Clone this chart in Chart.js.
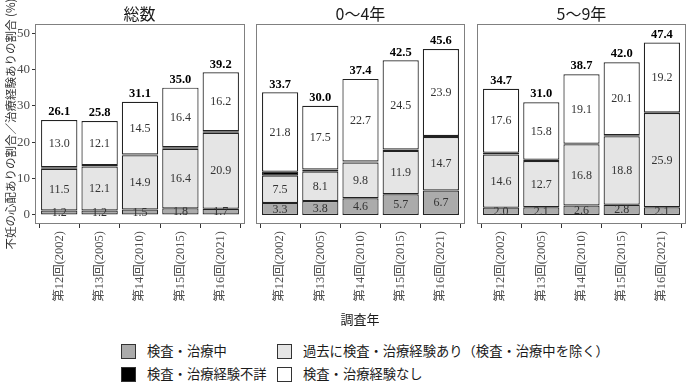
<!DOCTYPE html>
<html>
<head>
<meta charset="utf-8">
<script src="https://cdn.jsdelivr.net/npm/chart.js@4.4.1/dist/chart.umd.min.js"></script>
<style>
  body { margin: 0; background: #fff; }
  #wrap { position: relative; width: 690px; height: 386px; overflow: hidden;
          font-family: "Liberation Serif", "Noto Sans CJK JP", serif; color: #1a1a1a; }
  canvas { position: absolute; top: 0; }
  .strip { position: absolute; top: 5px; width: 209px; height: 17px; line-height: 17px;
           text-align: center; font-size: 16px; font-family: "Noto Sans CJK JP", sans-serif; }
  .ytitle { position: absolute; left: -120px; top: 116px; width: 260px; height: 16px; line-height: 16px;
            text-align: center; font-size: 11.5px; color: #333; transform: rotate(-90deg);
            font-family: "Noto Sans CJK JP", sans-serif; white-space: nowrap; }
  .xtitle { position: absolute; left: 310px; top: 309px; width: 100px; text-align: center;
            font-size: 13px; font-family: "Noto Sans CJK JP", sans-serif; }
  .leg { position: absolute; height: 16px; line-height: 16px; font-size: 13.3px; white-space: nowrap;
         font-family: "Noto Sans CJK JP", sans-serif; }
  .leg .box { position: absolute; left: 0; top: 0; width: 13px; height: 13px; border: 1.5px solid #333; }
  .leg .txt { position: absolute; left: 26px; top: -1px; }
</style>
</head>
<body>
<div id="wrap">
  <canvas id="c0" width="245" height="320" style="left:0px;width:245px;height:320px"></canvas>
  <canvas id="c1" width="209" height="320" style="left:256px;width:209px;height:320px"></canvas>
  <canvas id="c2" width="209" height="320" style="left:477px;width:209px;height:320px"></canvas>
  <div class="strip" style="left:35px">総数</div>
  <div class="strip" style="left:256px">0〜4年</div>
  <div class="strip" style="left:477px">5〜9年</div>
  <div class="ytitle">不妊の心配ありの割合／治療経験ありの割合 (%)</div>
  <div class="xtitle">調査年</div>
  <div class="leg" style="left:121px;top:344px"><span class="box" style="background:#ababab"></span><span class="txt">検査・治療中</span></div>
  <div class="leg" style="left:277px;top:344px"><span class="box" style="background:#e5e5e5"></span><span class="txt">過去に検査・治療経験あり（検査・治療中を除く）</span></div>
  <div class="leg" style="left:121px;top:367px"><span class="box" style="background:#000"></span><span class="txt">検査・治療経験不詳</span></div>
  <div class="leg" style="left:277px;top:367px"><span class="box" style="background:#fff"></span><span class="txt">検査・治療経験なし</span></div>
</div>
<script>
const surveys = ["第12回(2002)", "第13回(2005)", "第14回(2010)", "第15回(2015)", "第16回(2021)"];
const seriesNames = ["検査・治療中", "過去に検査・治療経験あり（検査・治療中を除く）", "検査・治療経験不詳", "検査・治療経験なし"];
const seriesColors = ["#ababab", "#e5e5e5", "#000000", "#ffffff"];
const yTicks = [0, 10, 20, 30, 40, 50];

// 総数
const allNow = [1.2, 1.2, 1.5, 1.8, 1.7];
const allPast = [11.5, 12.1, 14.9, 16.4, 20.9];
const allUnknown = [0.4, 0.4, 0.2, 0.4, 0.4];
const allNever = [13.0, 12.1, 14.5, 16.4, 16.2];
const allTotal = [26.1, 25.8, 31.1, 35.0, 39.2];

// 0〜4年
const y04Now = [3.3, 3.8, 4.6, 5.7, 6.7];
const y04Past = [7.5, 8.1, 9.8, 11.9, 14.7];
const y04Unknown = [1.1, 0.6, 0.3, 0.4, 0.3];
const y04Never = [21.8, 17.5, 22.7, 24.5, 23.9];
const y04Total = [33.7, 30.0, 37.4, 42.5, 45.6];

// 5〜9年
const y59Now = [2.0, 2.1, 2.6, 2.8, 2.1];
const y59Past = [14.6, 12.7, 16.8, 18.8, 25.9];
const y59Unknown = [0.5, 0.4, 0.2, 0.3, 0.2];
const y59Never = [17.6, 15.8, 19.1, 20.1, 19.2];
const y59Total = [34.7, 31.0, 38.7, 42.0, 47.4];

// labels inside segments, totals on top, panel border
const valueLabels = {
  id: "valueLabels",
  afterDatasetsDraw(chart, args, opts) {
    const ctx = chart.ctx;
    ctx.save();
    ctx.textAlign = "center";
    ctx.textBaseline = "middle";
    chart.data.datasets.forEach((ds, i) => {
      if (i === 2) return;
      chart.getDatasetMeta(i).data.forEach((bar, j) => {
        const p = bar.getProps(["x", "y", "base"], true);
        ctx.fillStyle = "#333";
        ctx.font = '12px "Liberation Serif"';
        ctx.fillText(ds.data[j].y.toFixed(1), p.x, (p.y + p.base) / 2 + 0.5);
      });
    });
    const xs = chart.scales.x, ys = chart.scales.y;
    ctx.fillStyle = "#000";
    ctx.font = 'bold 12.5px "Liberation Serif"';
    opts.sums.forEach((s, j) => {
      ctx.fillText(s.toFixed(1), xs.getPixelForValue(j + 1), ys.getPixelForValue(s) - 8);
    });
    const a = chart.chartArea;
    ctx.strokeStyle = "#808080";
    ctx.lineWidth = 1;
    ctx.strokeRect(a.left + 0.5, a.top + 0.5, a.right - a.left - 1, a.bottom - a.top - 1);
    ctx.restore();
  }
};

function drawPanel(id, series, sums, showY) {
  const datasets = series.map((vals, i) => ({
    label: seriesNames[i],
    data: vals.map((v, j) => ({ x: j + 1, y: v })),
    backgroundColor: seriesColors[i],
    borderColor: "#222",
    borderWidth: 1.2,
    borderSkipped: false,
    barPercentage: 0.9,
    categoryPercentage: 1.0
  }));

  new Chart(document.getElementById(id), {
    type: "bar",
    data: { datasets: datasets },
    plugins: [valueLabels],
    options: {
      responsive: false,
      animation: false,
      layout: { padding: { top: 24, left: 0, right: 0, bottom: 0 } },
      plugins: {
        legend: { display: false },
        tooltip: { enabled: false },
        valueLabels: { sums: sums }
      },
      scales: {
        x: {
          type: "linear",
          stacked: true,
          min: 0.4,
          max: 5.6,
          offset: false,
          afterBuildTicks: (scale) => { scale.ticks = [1, 2, 3, 4, 5].map((v) => ({ value: v })); },
          afterFit: (scale) => { scale.height = 96; },
          grid: { drawOnChartArea: false, color: "#333", tickLength: 4 },
          border: { display: false },
          ticks: {
            autoSkip: false,
            minRotation: 90,
            maxRotation: 90,
            padding: 3,
            color: "#4d4d4d",
            font: { size: 12.5, family: '"Liberation Serif", "Noto Sans CJK JP"' },
            callback: (v) => surveys[v - 1]
          }
        },
        y: {
          display: showY,
          stacked: true,
          min: -2.5,
          max: 52.5,
          afterBuildTicks: (scale) => { scale.ticks = yTicks.map((v) => ({ value: v })); },
          afterFit: (scale) => { scale.width = showY ? 35 : 0; },
          grid: { drawOnChartArea: false, color: "#333", tickLength: 3 },
          border: { display: false },
          ticks: {
            padding: 2,
            color: "#4d4d4d",
            font: { size: 13, family: '"Liberation Serif"' }
          }
        }
      }
    }
  });
}

drawPanel("c0", [allNow, allPast, allUnknown, allNever], allTotal, true);
drawPanel("c1", [y04Now, y04Past, y04Unknown, y04Never], y04Total, false);
drawPanel("c2", [y59Now, y59Past, y59Unknown, y59Never], y59Total, false);
</script>
</body>
</html>
